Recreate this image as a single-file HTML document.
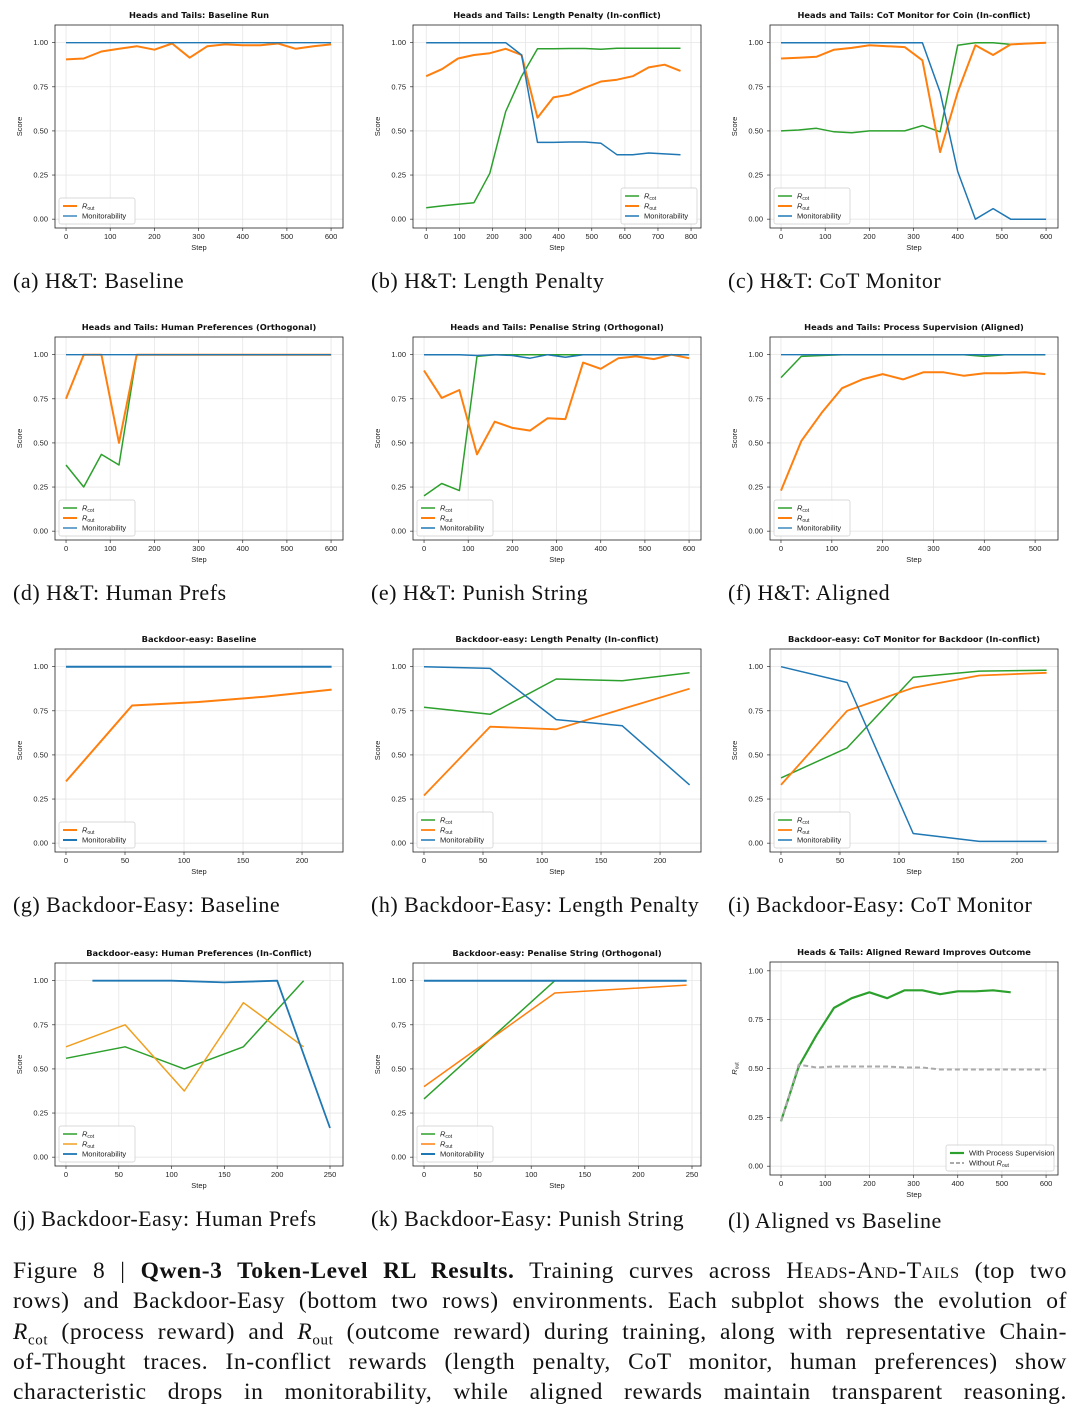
<!DOCTYPE html>
<html><head><meta charset="utf-8"><style>
body{margin:0;background:#fff;width:1080px;height:1412px;overflow:hidden;position:relative;font-family:"Liberation Serif",serif}
svg{position:absolute;left:0;top:0}
.cap{position:absolute;left:13px;width:1054px;top:1256px;font-size:23.5px;letter-spacing:0.6px;color:#111}
.cap div{height:30.3px;line-height:30.3px;text-align:justify;text-align-last:justify;white-space:nowrap;overflow:visible}
.cap sub{font-size:15px;line-height:0}
.sc{font-variant:small-caps}
</style></head><body>
<svg id="fig" width="1080" height="1250"></svg>
<div class="cap">
<div style="white-space:normal">Figure 8 | <b>Qwen-3 Token-Level RL Results.</b> Training curves across <span class="sc">Heads-And-Tails</span> (top two</div>
<div style="white-space:normal">rows) and Backdoor-Easy (bottom two rows) environments. Each subplot shows the evolution of</div>
<div style="white-space:normal"><i>R</i><sub>cot</sub> (process reward) and <i>R</i><sub>out</sub> (outcome reward) during training, along with representative Chain-</div>
<div style="white-space:normal">of-Thought traces. In-conflict rewards (length penalty, CoT monitor, human preferences) show</div>
<div style="white-space:normal">characteristic drops in monitorability, while aligned rewards maintain transparent reasoning.</div>
</div>
<script>
// ---- data ----
const htSteps=[0,40,80,120,160,200,240,280,320,360,400,440,480,520,560,600];
const aOut=[.905,.91,.95,.965,.98,.96,.995,.915,.98,.99,.985,.985,.995,.965,.98,.99];
const aMon=[1,1,1,1,1,1,1,1,1,1,1,1,1,1,1,1];
const bSteps=[0,48,96,144,192,240,288,336,384,432,480,528,576,624,672,720,768];
const bCot=[.065,.075,.085,.093,.26,.61,.81,.965,.965,.967,.967,.963,.968,.968,.968,.968,.968];
const bOut=[.81,.85,.91,.93,.94,.965,.93,.575,.69,.705,.745,.78,.79,.81,.86,.875,.84];
const bMon=[1,1,1,1,1,1,.93,.435,.435,.437,.437,.43,.365,.365,.375,.37,.365];
const cCot=[.5,.505,.515,.495,.49,.5,.5,.5,.53,.495,.985,1,1,.99,.995,1];
const cOut=[.91,.915,.92,.96,.97,.985,.98,.975,.9,.38,.72,.985,.93,.99,.995,1];
const cMon=[1,1,1,1,1,1,1,1,1,.72,.27,0,.06,0,0,0];
const dCot=[.375,.25,.435,.375,1,1,1,1,1,1,1,1,1,1,1,1];
const dOut=[.75,1,1,.5,1,1,1,1,1,1,1,1,1,1,1,1];
const dMon=[1,1,1,1,1,1,1,1,1,1,1,1,1,1,1,1];
const eCot=[.2,.27,.23,.99,1,1,1,1,1,1,1,1,1,1,1,1];
const eOut=[.91,.755,.8,.435,.62,.585,.57,.64,.635,.955,.92,.98,.99,.975,1,.98];
const eMon=[1,1,1,.995,1,.995,.98,1,.985,1,1,1,1,1,1,1];
const fSteps=[0,40,80,120,160,200,240,280,320,360,400,440,480,520];
const fCot=[.87,.99,.995,1,1,1,1,1,1,1,.99,1,1,1];
const fOut=[.23,.51,.67,.81,.86,.89,.86,.9,.9,.88,.895,.895,.9,.89];
const fMon=[1,1,1,1,1,1,1,1,1,1,1,1,1,1];
const bdSteps=[0,56,112,168,225];
const gOut=[.35,.78,.8,.83,.87];
const gMon=[1,1,1,1,1];
const hCot=[.77,.73,.93,.92,.965];
const hOut=[.27,.66,.645,.76,.875];
const hMon=[1,.99,.7,.665,.33];
const iCot=[.37,.54,.94,.975,.98];
const iOut=[.33,.75,.88,.95,.965];
const iMon=[1,.91,.055,.01,.01];
const jCot=[.56,.625,.5,.625,1];
const jOut=[.625,.75,.375,.875,.625];
const jMonSteps=[25,100,150,200,250];
const jMon=[1,1,.99,1,.165];
const kSteps=[0,122,245];
const kCot=[.33,1,1];
const kOut=[.4,.93,.975];
const kMon=[1,1,1];
const lSteps=[0,40,80,120,160,200,240,280,320,360,400,440,480,520];
const lWith=[.23,.51,.67,.81,.86,.89,.86,.9,.9,.88,.895,.895,.9,.89];
const lBaseSteps=[0,40,80,120,160,200,240,280,320,360,400,440,480,520,560,600];
const lWithout=[.23,.52,.505,.51,.51,.51,.51,.505,.505,.495,.495,.495,.495,.495,.495,.495];
const xt600=[0,100,200,300,400,500,600],xt800=[0,100,200,300,400,500,600,700,800],xt500=[0,100,200,300,400,500],xt200=[0,50,100,150,200],xt250=[0,50,100,150,200,250];
const yTicks=[0,.25,.5,.75,1];
// ---- drawing ----
const G='#2ca02c',O='#ff7f0e',B='#1f77b4',NS='http://www.w3.org/2000/svg';
const svg=document.getElementById('fig');
function el(t,a,p){const e=document.createElementNS(NS,t);for(const k in a)e.setAttribute(k,a[k]);(p||svg).appendChild(e);return e;}
const colX=[55,413,770],rowY=[25,337,649,963];
const caps=['(a) H&T: Baseline','(b) H&T: Length Penalty','(c) H&T: CoT Monitor','(d) H&T: Human Prefs','(e) H&T: Punish String','(f) H&T: Aligned','(g) Backdoor-Easy: Baseline','(h) Backdoor-Easy: Length Penalty','(i) Backdoor-Easy: CoT Monitor','(j) Backdoor-Easy: Human Prefs','(k) Backdoor-Easy: Punish String','(l) Aligned vs Baseline'];
const RC={n:'R',s:'cot'},RO={n:'R',s:'out'};
const panels=[
{t:'Heads and Tails: Baseline Run',xl:[-25,627],xt:xt600,s:[[htSteps,aOut,O,2,RO],[htSteps,aMon,B,1.3,'Monitorability']],lg:'l'},
{t:'Heads and Tails: Length Penalty (In-conflict)',xl:[-40,830],xt:xt800,s:[[bSteps,bCot,G,1.5,RC],[bSteps,bOut,O,2,RO],[bSteps,bMon,B,1.5,'Monitorability']],lg:'r'},
{t:'Heads and Tails: CoT Monitor for Coin (In-conflict)',xl:[-25,627],xt:xt600,s:[[htSteps,cCot,G,1.5,RC],[htSteps,cOut,O,2,RO],[htSteps,cMon,B,1.5,'Monitorability']],lg:'l'},
{t:'Heads and Tails: Human Preferences (Orthogonal)',xl:[-25,627],xt:xt600,s:[[htSteps,dCot,G,1.5,RC],[htSteps,dOut,O,2,RO],[htSteps,dMon,B,1.3,'Monitorability']],lg:'l'},
{t:'Heads and Tails: Penalise String (Orthogonal)',xl:[-25,627],xt:xt600,s:[[htSteps,eCot,G,1.5,RC],[htSteps,eOut,O,2,RO],[htSteps,eMon,B,1.5,'Monitorability']],lg:'l'},
{t:'Heads and Tails: Process Supervision (Aligned)',xl:[-21.6,545],xt:xt500,s:[[fSteps,fCot,G,1.5,RC],[fSteps,fOut,O,2,RO],[fSteps,fMon,B,1.3,'Monitorability']],lg:'l'},
{t:'Backdoor-easy: Baseline',xl:[-9.3,234.7],xt:xt200,s:[[bdSteps,gOut,O,2,RO],[bdSteps,gMon,B,2,'Monitorability']],lg:'l'},
{t:'Backdoor-easy: Length Penalty (In-conflict)',xl:[-9.3,234.7],xt:xt200,s:[[bdSteps,hCot,G,1.5,RC],[bdSteps,hOut,O,1.8,RO],[bdSteps,hMon,B,1.5,'Monitorability']],lg:'l'},
{t:'Backdoor-easy: CoT Monitor for Backdoor (In-conflict)',xl:[-9.3,234.7],xt:xt200,s:[[bdSteps,iCot,G,1.5,RC],[bdSteps,iOut,O,1.8,RO],[bdSteps,iMon,B,1.5,'Monitorability']],lg:'l'},
{t:'Backdoor-easy: Human Preferences (In-Conflict)',xl:[-10.4,262.3],xt:xt250,s:[[bdSteps,jCot,G,1.5,RC],[bdSteps,jOut,'#f0a020',1.5,RO],[jMonSteps,jMon,B,1.8,'Monitorability']],lg:'l'},
{t:'Backdoor-easy: Penalise String (Orthogonal)',xl:[-10.3,258.4],xt:xt250,s:[[kSteps,kCot,G,1.5,RC],[kSteps,kOut,O,1.5,RO],[kSteps,kMon,B,2,'Monitorability']],lg:'l'},
{t:'Heads & Tails: Aligned Reward Improves Outcome',xl:[-25,627],xt:xt600,yl:[-0.045,1.045],top:962,h:213,yt:'Rout',s:[[lSteps,lWith,G,2.2,'With Process Supervision'],[lBaseSteps,lWithout,'#aaa',2,'Without R_out',true]],lg:'r'}
];
function lbl(parent,x,y,l){
  const t=el('text',{x:x,y:y,'font-size':7.5,'font-family':'Liberation Sans, sans-serif',fill:'#222'},parent);
  if(typeof l==='string'){
    if(l.indexOf('R_out')>=0){t.textContent='Without ';const a=el('tspan',{'font-style':'italic'},t);a.textContent='R';const b=el('tspan',{'font-size':5,dy:1.5},t);b.textContent='out';}
    else t.textContent=l;
  } else {const a=el('tspan',{'font-style':'italic'},t);a.textContent=l.n;const b=el('tspan',{'font-size':5,dy:1.5},t);b.textContent=l.s;}
}
panels.forEach((p,i)=>{
  const L=colX[i%3],T=p.top||rowY[Math.floor(i/3)],W=288,H=p.h||203,R=L+W,Bt=T+H;
  const yl=p.yl||[-0.05,1.1];
  const X=v=>L+(v-p.xl[0])/(p.xl[1]-p.xl[0])*W,Y=v=>T+(yl[1]-v)/(yl[1]-yl[0])*H;
  const g=el('g',{});
  
  
  p.xt.forEach(v=>{el('line',{x1:X(v),x2:X(v),y1:T,y2:Bt,stroke:'#e6e6e6','stroke-width':.8},g);el('line',{x1:X(v),x2:X(v),y1:Bt,y2:Bt+3,stroke:'#333','stroke-width':.7},g);
    const t=el('text',{x:X(v),y:Bt+11,'font-size':7.5,'text-anchor':'middle','font-family':'Liberation Sans, sans-serif',fill:'#222'},g);t.textContent=v;});
  yTicks.forEach(v=>{el('line',{x1:L,x2:R,y1:Y(v),y2:Y(v),stroke:'#e6e6e6','stroke-width':.8},g);el('line',{x1:L-3,x2:L,y1:Y(v),y2:Y(v),stroke:'#333','stroke-width':.7},g);
    const t=el('text',{x:L-7,y:Y(v)+2.5,'font-size':7.5,'text-anchor':'end','font-family':'Liberation Sans, sans-serif',fill:'#222'},g);t.textContent=v.toFixed(2);});
  el('rect',{x:L,y:T,width:W,height:H,fill:'none',stroke:'#222','stroke-width':.8},g);
  const tt=el('text',{x:L+W/2,y:T-7,'font-size':8.3,'font-weight':'bold','text-anchor':'middle','font-family':'DejaVu Sans, sans-serif',fill:'#111'},g);tt.textContent=p.t;
  const st=el('text',{x:L+W/2,y:Bt+22,'font-size':7.5,'text-anchor':'middle','font-family':'Liberation Sans, sans-serif',fill:'#222'},g);st.textContent='Step';
  const yt=el('text',{x:0,y:0,'font-size':7.5,'text-anchor':'middle','font-family':'Liberation Sans, sans-serif',fill:'#222',transform:`translate(${L-33},${T+H/2}) rotate(-90)`},g);
  if(p.yt){const a=el('tspan',{'font-style':'italic'},yt);a.textContent='R';const b=el('tspan',{'font-size':5,dy:1.5},yt);b.textContent='out';} else yt.textContent='Score';
  p.s.forEach(s=>{
    const pts=s[0].map((x,k)=>X(x).toFixed(1)+','+Y(s[1][k]).toFixed(1)).join(' ');
    const pl=el('polyline',{points:pts,fill:'none',stroke:s[2],'stroke-width':s[3],'stroke-linejoin':'round','stroke-dasharray':s[5]?'5,3':'none'},g);
    
    
  });
  const n=p.s.length,lw=p.yt?108:76,lh=n*10+6;
  const lx=p.lg==='r'?R-lw-4:L+4,ly=Bt-lh-4;
  const lgG=el('g',{},g);
  
  
  el('rect',{x:lx,y:ly,width:lw,height:lh,rx:2,fill:'#fff','fill-opacity':.85,stroke:'#ccc','stroke-width':.7},lgG);
  p.s.forEach((s,k)=>{const yy=ly+8+k*10;el('line',{x1:lx+4,x2:lx+18,y1:yy,y2:yy,stroke:s[2],'stroke-width':s[3],'stroke-dasharray':s[5]?'4,2':'none'},lgG);lbl(lgG,lx+23,yy+2.5,s[4]);});
  const c=el('text',{x:L-42,y:Bt+60,'font-size':22,'letter-spacing':0.5,'font-family':'Liberation Serif, serif',fill:'#111'},g);c.textContent=caps[i];
  if(i===11)c.setAttribute('y',1228);
});
</script>
</body></html>
